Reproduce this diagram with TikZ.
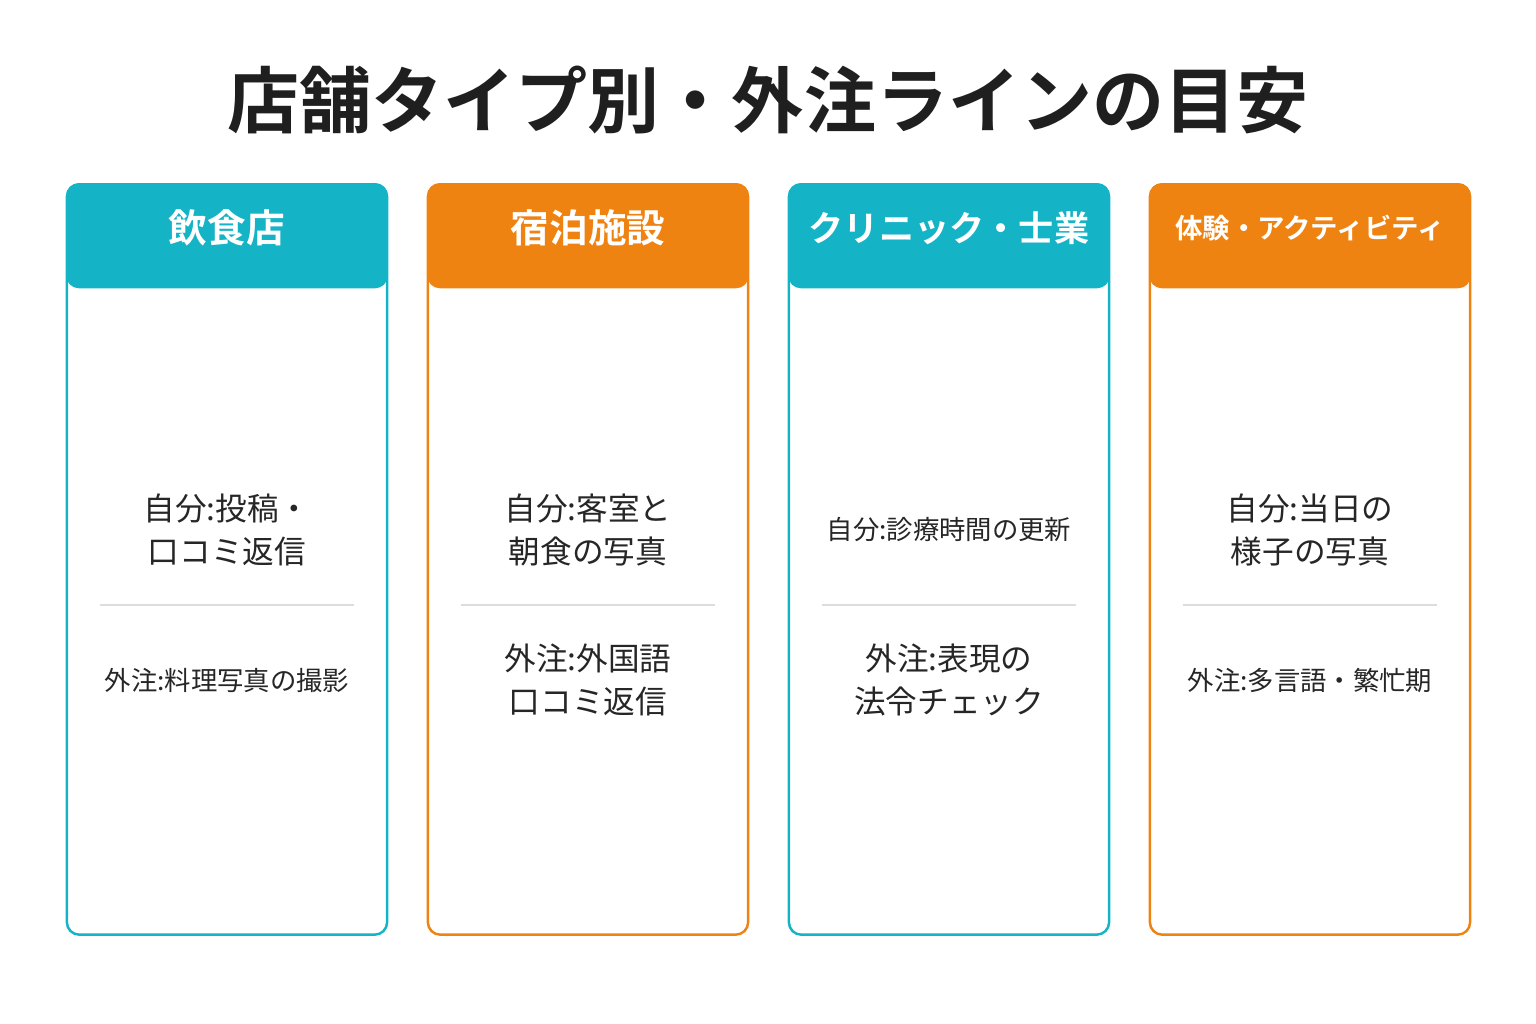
\documentclass[tikz,border=0pt]{standalone}
\usepackage{fontspec}
\newfontfamily\cjk{Noto Sans CJK JP}
\newfontfamily\cjkb{Noto Sans CJK JP Bold}
\definecolor{teal}{HTML}{14B4C6}
\definecolor{orng}{HTML}{EF8311}
\definecolor{sep}{HTML}{DDDDDD}
\tikzset{
  card/.style={draw=#1, line width=0.7pt, rounded corners=3.5pt, minimum width=3.2cm, minimum height=7.5cm, anchor=north},
  head/.style={fill=#1, rounded corners=3.5pt, minimum width=3.21cm, minimum height=1.05cm, anchor=north},
  headtext/.style={text=white, font=\cjkb\fontsize{#1}{13}\selectfont},
  body/.style={font=\cjk\fontsize{9}{12}\selectfont, align=center, text=black!85}
}
\begin{document}
\begin{tikzpicture}[x=0.01cm,y=-0.01cm]
  \useasboundingbox (0,0) rectangle (1536,1024);
  \node[font=\cjkb\fontsize{20.5}{24}\selectfont, text=black!88] (title) at (768,100) {店舗タイプ別・外注ラインの目安};
  % cards
  \foreach \i/\x/\c/\h/\fs/\a/\b in {
    1/227/teal/飲食店/11/{自分:投稿・\\口コミ返信}/{\fontsize{7.5}{10}\selectfont 外注:料理写真の撮影},
    2/588/orng/宿泊施設/11/{自分:客室と\\朝食の写真}/{外注:外国語\\口コミ返信},
    3/949/teal/クリニック・士業/10/{\fontsize{7.5}{10}\selectfont 自分:診療時間の更新}/{外注:表現の\\法令チェック},
    4/1310/orng/体験・アクティビティ/7.8/{自分:当日の\\様子の写真}/{\fontsize{7.5}{10}\selectfont 外注:多言語・繁忙期}} {
    \node[card=\c] (card\i) at (\x,183) {};
    \node[head=\c] (head\i) at (\x,182.5) {};
    \node[headtext=\fs] (title\i) at (\x,228) {\h};
    \node[body] (self\i) at (\x,530) {\a};
    \node[body] (out\i) at (\x,680) {\b};
    \draw[sep, line width=0.6pt] (\x-127,605) -- (\x+127,605);
  }
\end{tikzpicture}
\end{document}
